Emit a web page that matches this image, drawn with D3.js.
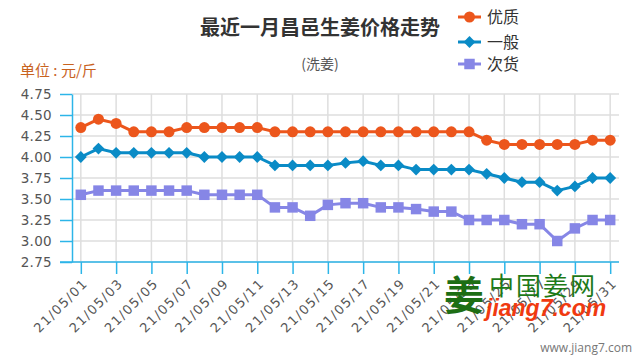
<!DOCTYPE html>
<html><head><meta charset="utf-8">
<script src="https://cdn.jsdelivr.net/npm/d3@7/dist/d3.min.js"></script>
<style>
html,body{margin:0;padding:0;background:#fff;}
svg{display:block;font-family:"Noto Sans CJK SC","Noto Sans",sans-serif;}
</style></head>
<body>
<svg id="c" width="640" height="360"></svg>
<script>
const dates = ["21/05/01","21/05/02","21/05/03","21/05/04","21/05/05","21/05/06","21/05/07","21/05/08","21/05/09","21/05/10","21/05/11","21/05/12","21/05/13","21/05/14","21/05/15","21/05/16","21/05/17","21/05/18","21/05/19","21/05/20","21/05/21","21/05/22","21/05/23","21/05/24","21/05/25","21/05/26","21/05/27","21/05/28","21/05/29","21/05/30","21/05/31"];
const youzhi = [4.35,4.45,4.40,4.30,4.30,4.30,4.35,4.35,4.35,4.35,4.35,4.30,4.30,4.30,4.30,4.30,4.30,4.30,4.30,4.30,4.30,4.30,4.30,4.20,4.15,4.15,4.15,4.15,4.15,4.20,4.20];
const yiban = [4.00,4.10,4.05,4.05,4.05,4.05,4.05,4.00,4.00,4.00,4.00,3.90,3.90,3.90,3.90,3.93,3.95,3.90,3.90,3.85,3.85,3.85,3.85,3.80,3.75,3.70,3.70,3.60,3.65,3.75,3.75];
const cihuo = [3.55,3.60,3.60,3.60,3.60,3.60,3.60,3.55,3.55,3.55,3.55,3.40,3.40,3.30,3.43,3.45,3.45,3.40,3.40,3.38,3.35,3.35,3.25,3.25,3.25,3.20,3.20,3.00,3.15,3.25,3.25];
const seriesNames = ["优质","一般","次货"];
const yTicks = [2.75,3.00,3.25,3.50,3.75,4.00,4.25,4.50,4.75];
const xTickLabels = ["21/05/01","21/05/03","21/05/05","21/05/07","21/05/09","21/05/11","21/05/13","21/05/15","21/05/17","21/05/19","21/05/21","21/05/23","21/05/25","21/05/27","21/05/29","21/05/31"];

const colors = ["#ec561c","#0a8bc6","#8686e6"];
const symbols = [d3.symbolCircle, d3.symbolSquare, d3.symbolSquare];
const symSizes = [95, 70, 110];
const symRot = [0, 45, 0];
const data = [youzhi, yiban, cihuo];

const svg = d3.select("#c");
const L = 72, R = 619, T = 94, B = 262;
const x = d3.scalePoint().domain(dates).range([L, R]).padding(0.5);
const y = d3.scaleLinear().domain([2.75, 4.75]).range([B, T]);

// grid
const g = svg.append("g");
g.selectAll(".hg").data(yTicks).join("line")
  .attr("x1", L).attr("x2", R).attr("y1", d => y(d)).attr("y2", d => y(d))
  .attr("stroke", "#dedede").attr("stroke-width", 1.5);
g.selectAll(".vg").data(xTickLabels).join("line")
  .attr("x1", d => x(d)).attr("x2", d => x(d)).attr("y1", T).attr("y2", B)
  .attr("stroke", "#dedede").attr("stroke-width", 1.5);

// axes
const axisColor = "#2cb5e8";
const ya = svg.append("g").attr("transform", `translate(${L},0)`)
  .call(d3.axisLeft(y).tickValues(yTicks).tickFormat(d3.format(".2f")).tickSize(12).tickSizeOuter(0).tickPadding(8));
ya.select(".domain").attr("stroke", axisColor).attr("stroke-width", 1.5);
ya.selectAll(".tick line").attr("stroke", axisColor).attr("stroke-width", 1.5);
ya.selectAll(".tick text").attr("fill", "#555").attr("font-size", 13.5).attr("font-family", "'DejaVu Sans',sans-serif").attr("letter-spacing", 0.3);

const xa = svg.append("g").attr("transform", `translate(0,${B})`)
  .call(d3.axisBottom(x).tickValues(xTickLabels).tickSize(12).tickSizeOuter(0));
xa.select(".domain").attr("d", `M${L - 12},0H${R}`).attr("stroke", axisColor).attr("stroke-width", 1.5);
xa.selectAll(".tick line").attr("stroke", axisColor).attr("stroke-width", 1.5);
xa.selectAll(".tick text")
  .attr("fill", "#555").attr("font-size", 13).attr("font-family", "'DejaVu Sans',sans-serif")
  .attr("letter-spacing", 1.4)
  .attr("text-anchor", "end")
  .attr("transform", "translate(4,19) rotate(-45)")
  .attr("dy", "0.35em").attr("y", 0);

// lines
data.forEach((vals, i) => {
  const line = d3.line().x((d, j) => x(dates[j])).y(d => y(d));
  svg.append("path").datum(vals).attr("d", line)
    .attr("fill", "none").attr("stroke", colors[i]).attr("stroke-width", 3).attr("stroke-linejoin", "round");
  svg.append("g").selectAll("path").data(vals).join("path")
    .attr("d", d3.symbol().type(symbols[i]).size(symSizes[i]))
    .attr("transform", (d, j) => `translate(${x(dates[j])},${y(d)}) rotate(${symRot[i]})`)
    .attr("fill", colors[i]);
});

// title
svg.append("text").attr("x", 320).attr("y", 35).attr("text-anchor", "middle")
  .attr("font-size", 20).attr("font-weight", "bold").attr("fill", "#333")
  .text("最近一月昌邑生姜价格走势");
svg.append("text").attr("x", 320).attr("y", 69).attr("text-anchor", "middle")
  .attr("font-size", 14).attr("fill", "#555").text("(洗姜)");
svg.append("text").attr("x", 20).attr("y", 76)
  .attr("font-size", 15).attr("fill", "#c8621e").text("单位 : 元/斤");

// legend
const lg = svg.append("g");
const ly = [17, 42, 64];
seriesNames.forEach((n, i) => {
  lg.append("line").attr("x1", 458).attr("x2", 481).attr("y1", ly[i]).attr("y2", ly[i])
    .attr("stroke", colors[i]).attr("stroke-width", 3);
  lg.append("path").attr("d", d3.symbol().type(symbols[i]).size(symSizes[i]))
    .attr("transform", `translate(469.5,${ly[i]}) rotate(${symRot[i]})`).attr("fill", colors[i]);
  lg.append("text").attr("x", 487).attr("y", ly[i] + 6).attr("font-size", 16).attr("fill", "#333").text(n);
});

// watermark logo
const wm = svg.append("g");
wm.append("text").attr("x", 444).attr("y", 310).attr("font-size", 40).attr("font-weight", "bold")
  .attr("fill", "#1d6e14").text("姜");
wm.append("text").attr("x", 489).attr("y", 295).attr("font-size", 25).attr("font-weight", "normal")
  .attr("fill", "#1d7a18").attr("letter-spacing", 2).text("中国姜网");
wm.append("text").attr("x", 486).attr("y", 316).attr("font-size", 23).attr("font-weight", "bold")
  .attr("font-style", "italic").attr("font-family", "'Liberation Sans',Arial,sans-serif")
  .attr("fill", "#f03a10").text("jiang7.com");
svg.append("text").attr("x", 632).attr("y", 352).attr("text-anchor", "end")
  .attr("font-size", 12).attr("fill", "#777").attr("font-family", "'Open Sans','DejaVu Sans',sans-serif")
  .text("www.jiang7.com");
</script>
</body></html>
